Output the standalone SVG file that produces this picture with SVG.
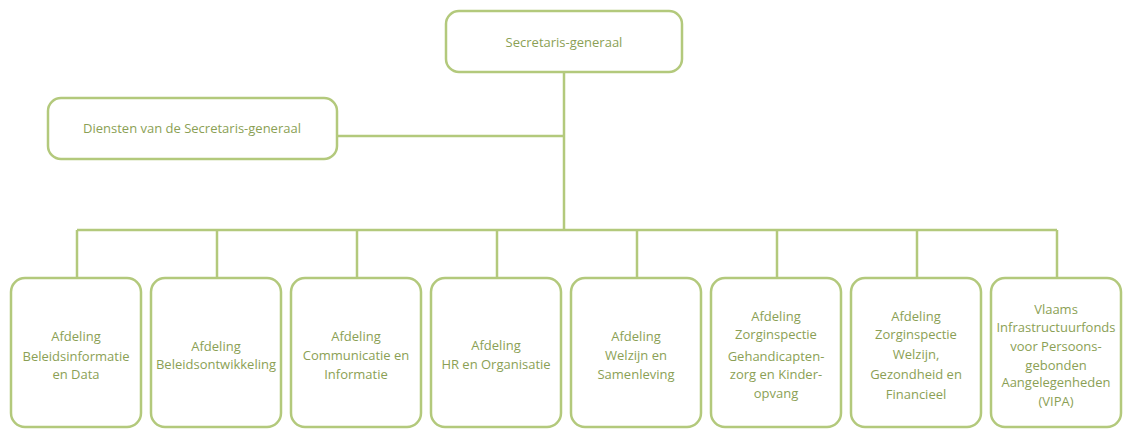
<svg xmlns="http://www.w3.org/2000/svg" width="1125" height="430" viewBox="0 0 1125 430">
<style>
.box{fill:#ffffff;stroke:#b3c97c;stroke-width:2.5}
.ln{fill:none;stroke:#b3c97c;stroke-width:2.5}
text{font-family:"Open Sans","Liberation Sans",sans-serif;font-size:13px;fill:#8b9f55;text-anchor:middle}
</style>
<rect width="1125" height="430" fill="#ffffff"/>
<g id="connectors">
<path class="ln" d="M564 72V230M337 136H564M77 230H1057M77 230V278M217 230V278M357 230V278M497 230V278M637 230V278M777 230V278M917 230V278M1057 230V278"/>
</g>
<g id="sg"><rect class="box" x="446" y="11" width="236" height="61" rx="13"/><text x="564" y="47">Secretaris-generaal</text></g>
<g id="diensten"><rect class="box" x="48" y="98" width="289" height="61" rx="13"/><text x="192" y="133">Diensten van de Secretaris-generaal</text></g>
<g id="n1"><rect class="box" x="11" y="278" width="130" height="149" rx="14"/><text x="76" y="341">Afdeling</text><text x="76" y="361">Beleidsinformatie</text><text x="76" y="379">en Data</text></g>
<g id="n2"><rect class="box" x="151" y="278" width="130" height="149" rx="14"/><text x="216" y="351">Afdeling</text><text x="216" y="369">Beleidsontwikkeling</text></g>
<g id="n3"><rect class="box" x="291" y="278" width="130" height="149" rx="14"/><text x="356" y="341">Afdeling</text><text x="356" y="360">Communicatie en</text><text x="356" y="379">Informatie</text></g>
<g id="n4"><rect class="box" x="431" y="278" width="130" height="149" rx="14"/><text x="496" y="350">Afdeling</text><text x="496" y="369">HR en Organisatie</text></g>
<g id="n5"><rect class="box" x="571" y="278" width="130" height="149" rx="14"/><text x="636" y="341">Afdeling</text><text x="636" y="360">Welzijn en</text><text x="636" y="379">Samenleving</text></g>
<g id="n6"><rect class="box" x="711" y="278" width="130" height="149" rx="14"/><text x="776" y="321">Afdeling</text><text x="776" y="339">Zorginspectie</text><text x="776" y="361">Gehandicapten-</text><text x="776" y="379">zorg en Kinder-</text><text x="776" y="398">opvang</text></g>
<g id="n7"><rect class="box" x="851" y="278" width="130" height="149" rx="14"/><text x="916" y="321">Afdeling</text><text x="916" y="339">Zorginspectie</text><text x="916" y="359">Welzijn,</text><text x="916" y="379">Gezondheid en</text><text x="916" y="399">Financieel</text></g>
<g id="n8"><rect class="box" x="991" y="278" width="130" height="149" rx="14"/><text x="1056" y="314">Vlaams</text><text x="1056" y="332">Infrastructuurfonds</text><text x="1056" y="351">voor Persoons-</text><text x="1056" y="370">gebonden</text><text x="1056" y="387">Aangelegenheden</text><text x="1056" y="406">(VIPA)</text></g>
</svg>
